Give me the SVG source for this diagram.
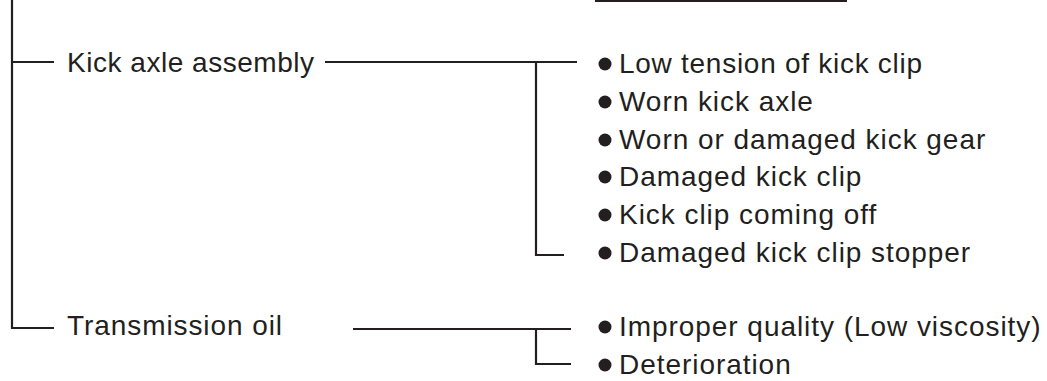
<svg xmlns="http://www.w3.org/2000/svg" width="1047" height="381" viewBox="0 0 1047 381">
<style>
.t{font-family:"Liberation Sans",Arial,sans-serif;font-size:28px;fill:#231f20;letter-spacing:0.95px}
.c{stroke:#231f20;stroke-width:2.2;fill:none}
.b{fill:#231f20}
</style>
<rect width="1047" height="381" fill="#fff"/>
<g id="connectors">
<line class="c" x1="595" y1="1" x2="847" y2="1"/>
<polyline class="c" points="12,0 12,328 54,328"/>
<line class="c" x1="12" y1="62" x2="54" y2="62"/>
<line class="c" x1="325" y1="62" x2="577" y2="62"/>
<polyline class="c" points="536,62 536,255 564,255"/>
<line class="c" x1="353" y1="329" x2="571" y2="329"/>
<polyline class="c" points="536,329 536,364 571,364"/>
</g>
<g id="kick-axle"><text class="t" x="67" y="72" textLength="248" lengthAdjust="spacing">Kick axle assembly</text></g>
<g id="transmission-oil"><text class="t" x="67" y="335" textLength="216" lengthAdjust="spacing">Transmission oil</text></g>
<g id="item1"><circle class="b" cx="605" cy="64" r="6.5"/><text class="t" x="619" y="73" textLength="304" lengthAdjust="spacing">Low tension of kick clip</text></g>
<g id="item2"><circle class="b" cx="605" cy="102" r="6.5"/><text class="t" x="619" y="111">Worn kick axle</text></g>
<g id="item3"><circle class="b" cx="605" cy="140" r="6.5"/><text class="t" x="619" y="149">Worn or damaged kick gear</text></g>
<g id="item4"><circle class="b" cx="605" cy="177" r="6.5"/><text class="t" x="619" y="186">Damaged kick clip</text></g>
<g id="item5"><circle class="b" cx="605" cy="215" r="6.5"/><text class="t" x="619" y="224">Kick clip coming off</text></g>
<g id="item6"><circle class="b" cx="605" cy="253" r="6.5"/><text class="t" x="619" y="262">Damaged kick clip stopper</text></g>
<g id="item7"><circle class="b" cx="605" cy="327" r="6.5"/><text class="t" x="619" y="336">Improper quality (Low viscosity)</text></g>
<g id="item8"><circle class="b" cx="605" cy="365" r="6.5"/><text class="t" x="619" y="374">Deterioration</text></g>
</svg>
